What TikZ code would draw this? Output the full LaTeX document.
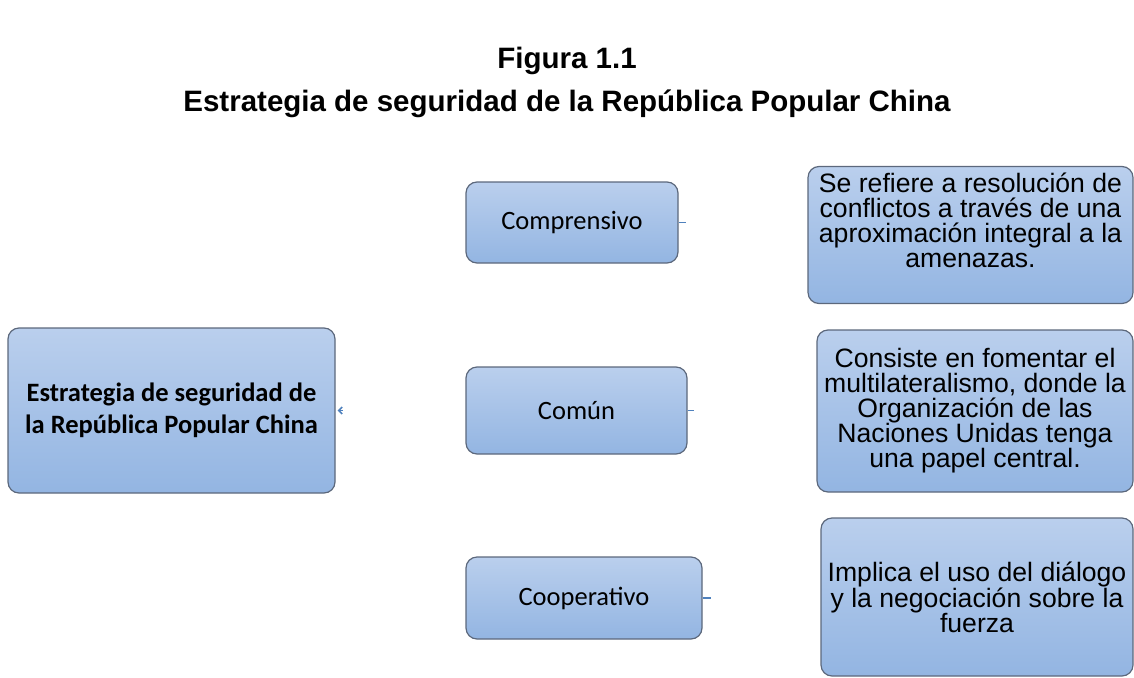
\documentclass[tikz,border=0pt]{standalone}
\usepackage{fontspec}
\setmainfont{Liberation Sans}
\newfontfamily\calibri{Carlito}
\usetikzlibrary{positioning,arrows.meta}

\definecolor{boxtop}{RGB}{186,207,237}
\definecolor{boxbot}{RGB}{147,181,226}
\definecolor{boxline}{RGB}{92,104,124}
\definecolor{stubblue}{RGB}{79,129,189}

\begin{document}
\begin{tikzpicture}[
  x=1pt, y=-1pt,
  bnode/.style={rectangle, rounded corners=11pt, draw=boxline, line width=1.2pt,
    top color=boxtop, bottom color=boxbot, align=center, inner sep=0pt},
  cnode/.style={bnode, font=\calibri\fontsize{26.5}{32}\selectfont},
  dnode/.style={bnode, font=\fontsize{26.6}{25}\selectfont},
  tnode/.style={font=\bfseries\fontsize{29.5}{34}\selectfont},
  stub/.style={-, draw=stubblue, line width=1.6pt},
  arw/.style={-{Straight Barb[length=3.5pt,width=7pt]}, draw=stubblue, line width=1.6pt, shorten >=2pt}
  ]

\path [use as bounding box] (0,0) rectangle (1134,677);

% titles
\node [tnode] (fig) at (567,61) {Figura 1.1};
\node [tnode] (tit) at (567,104) {Estrategia de seguridad de la República Popular China};

% main box
\node [cnode, minimum width=327pt, minimum height=165pt] (main) at (171.5,410.5)
  {\bfseries Estrategia de seguridad de\\\bfseries la República Popular China};

% middle column
\node [cnode, minimum width=212pt, minimum height=81pt] (comp) at (572,222.5) {Comprensivo};
\node [cnode, minimum width=221pt, minimum height=87pt] (comun) at (576.5,410.5) {Común};
\node [cnode, minimum width=236pt, minimum height=82pt] (coop) at (584,598) {Cooperativo};

% right column
\node [dnode, minimum width=325pt, minimum height=137pt, text depth=30pt] (desc1) at (970.5,235)
  {Se refiere a resolución de\\conflictos a través de una\\aproximación integral a la\\amenazas.};
\node [dnode, minimum width=316pt, minimum height=162pt] (desc2) at (975,411)
  {Consiste en fomentar el\\multilateralismo, donde la\\Organización de las\\Naciones Unidas tenga\\una papel central.};
\node [dnode, minimum width=312pt, minimum height=158pt] (desc3) at (977,597)
  {Implica el uso del diálogo\\y la negociación sobre la\\fuerza};

% connector stubs
\coordinate [right=7pt of main.east] (mainend);
\coordinate [right=7pt of comp.east] (compend);
\coordinate [right=6pt of comun.east] (comunend);
\coordinate [right=8pt of coop.east] (coopend);

\draw [arw] (mainend) -- (main);
\draw [stub] (comp) -- (compend);
\draw [stub] (comun) -- (comunend);
\draw [stub] (coop) -- (coopend);

\end{tikzpicture}
\end{document}
